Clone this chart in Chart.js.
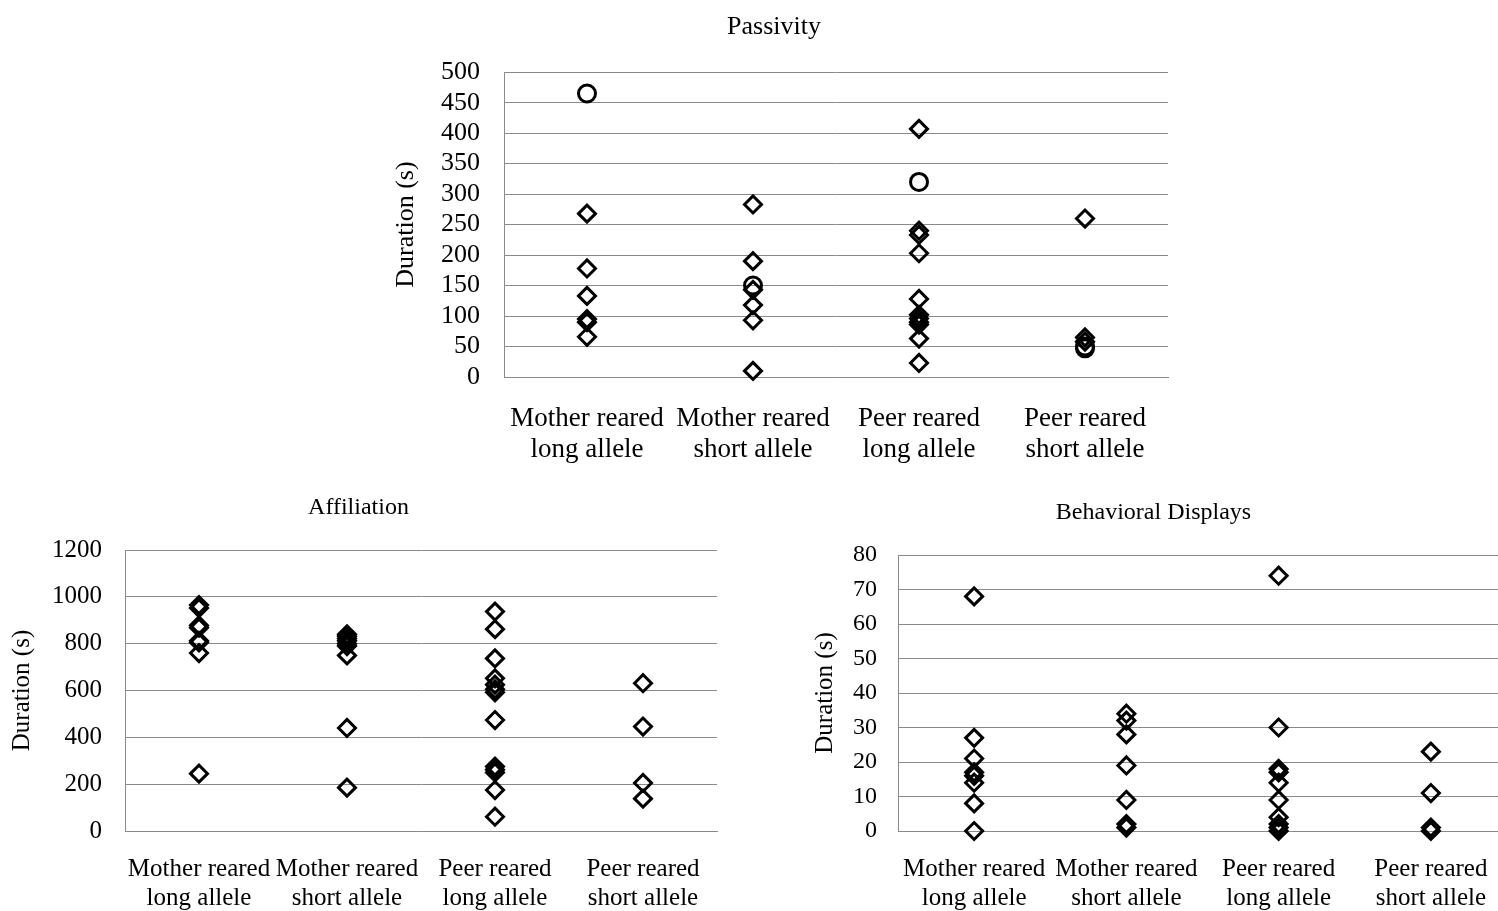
<!DOCTYPE html>
<html><head><meta charset="utf-8">
<script src="https://cdn.jsdelivr.net/npm/chart.js@4.4.1/dist/chart.umd.min.js"></script>
<style>
html,body{margin:0;padding:0;background:#fff;overflow:hidden;width:1498px;height:911px;}
.box{position:absolute;}
canvas{display:block;}
</style></head><body>
<div class="box" style="left:380px;top:0px;"><canvas id="c1" width="800" height="470"></canvas></div>
<div class="box" style="left:0px;top:470px;"><canvas id="c2" width="720" height="441"></canvas></div>
<div class="box" style="left:800px;top:470px;"><canvas id="c3" width="710" height="441"></canvas></div>
<script>
// ---- data ----
const categories = [
  ["Mother reared", "long allele"],
  ["Mother reared", "short allele"],
  ["Peer reared", "long allele"],
  ["Peer reared", "short allele"]
];
const yAxisTitle = "Duration (s)";

// Passivity
const passivityTitle = "Passivity";
const passivityTicks = { max: 500, step: 50 };
const passivityMotherLong  = [268, 178, 133, 95, 90, 66];
const passivityMotherShort = [283, 190, 143, 118, 93, 10];
const passivityPeerLong    = [407, 240, 233, 203, 128, 102, 96, 90, 86, 63, 23];
const passivityPeerShort   = [260, 65, 58];
const passivityOutliers    = [[465], [150], [320], [50, 47]];

// Affiliation
const affiliationTitle = "Affiliation";
const affiliationTicks = { max: 1200, step: 200 };
const affiliationMotherLong  = [965, 952, 878, 868, 812, 805, 760, 245];
const affiliationMotherShort = [840, 832, 822, 812, 800, 790, 750, 440, 185];
const affiliationPeerLong    = [937, 862, 737, 652, 625, 605, 592, 474, 275, 262, 250, 175, 61];
const affiliationPeerShort   = [631, 446, 205, 138];

// Behavioral Displays
const displaysTitle = "Behavioral Displays";
const displaysTicks = { max: 80, step: 10 };
const displaysMotherLong  = [68, 27, 21, 17, 16, 14, 8, 0];
const displaysMotherShort = [34, 32, 28, 19, 9, 2, 1];
const displaysPeerLong    = [74, 30, 18, 17, 14, 9, 4, 2, 1, 0];
const displaysPeerShort   = [23, 11, 1, 0];

// ---- drawing ----
const FONT = "'Liberation Serif', 'Times New Roman', serif";
const GRID = '#8a8a8a';

function buildPoints(groups) {
  const pts = [];
  groups.forEach((vals, i) => vals.forEach(v => pts.push({ x: i, y: v })));
  return pts;
}

function makeChart(id, o) {
  return new Chart(document.getElementById(id), {
    type: 'scatter',
    data: {
      datasets: o.sets.map(s => ({
        data: buildPoints(s.groups),
        pointStyle: s.style,
        pointRadius: s.r,
        pointHoverRadius: s.r,
        pointBorderWidth: 3,
        pointHoverBorderWidth: 3,
        pointBorderColor: '#000',
        pointBackgroundColor: 'rgba(0,0,0,0)',
        clip: false
      }))
    },
    options: {
      responsive: false,
      animation: false,
      events: [],
      layout: { autoPadding: false, padding: { left: 0, right: o.padRight, top: 0, bottom: 0 } },
      plugins: {
        legend: { display: false },
        tooltip: { enabled: false },
        title: {
          display: true, text: o.title, color: '#000',
          font: { family: FONT, size: o.titleSize, weight: 'normal', lineHeight: 1.2 },
          padding: { top: o.titleTop, bottom: o.titleBottom }
        }
      },
      scales: {
        x: {
          type: 'linear',
          min: -0.5, max: categories.length - 0.5,
          afterBuildTicks: (s) => { s.ticks = categories.map((c, i) => ({ value: i })); },
          afterFit: (s) => { s.height = o.xHeight; s.paddingLeft = 0; s.paddingRight = 0; },
          ticks: {
            callback: (v) => categories[v],
            color: '#000',
            font: { family: FONT, size: o.catSize, lineHeight: o.catLH },
            padding: o.catPad, maxRotation: 0, minRotation: 0, autoSkip: false
          },
          grid: { display: false, drawTicks: false },
          border: { display: true, color: GRID, width: 1 }
        },
        y: {
          min: 0, max: o.ticks.max,
          afterFit: (s) => { s.width = o.yWidth; s.paddingTop = 0; s.paddingBottom = 0; },
          ticks: {
            stepSize: o.ticks.step, color: '#000',
            autoSkip: false,
            callback: (v) => String(v),
            font: { family: FONT, size: o.tickSize },
            padding: o.tickPad
          },
          grid: { color: GRID, lineWidth: 1, drawTicks: false },
          border: { display: true, color: GRID, width: 1 },
          title: {
            display: true, text: yAxisTitle, color: '#000',
            font: { family: FONT, size: o.ySize, lineHeight: 1.2 },
            padding: { top: o.yTitlePad, bottom: 0 }
          }
        }
      }
    }
  });
}

makeChart('c1', {
  title: passivityTitle, ticks: passivityTicks,
  sets: [
    { groups: [passivityMotherLong, passivityMotherShort, passivityPeerLong, passivityPeerShort], style: 'rectRot', r: 8.5 },
    { groups: passivityOutliers, style: 'circle', r: 8.5 }
  ],
  padRight: 12, yWidth: 124, xHeight: 93,
  titleSize: 26, titleTop: 12, titleBottom: 29,
  tickSize: 26, tickPad: 24,
  catSize: 27, catLH: 1.15, catPad: 26,
  ySize: 26, yTitlePad: 11
});

makeChart('c2', {
  title: affiliationTitle, ticks: affiliationTicks,
  sets: [
    { groups: [affiliationMotherLong, affiliationMotherShort, affiliationPeerLong, affiliationPeerShort], style: 'rectRot', r: 8.5 }
  ],
  padRight: 3, yWidth: 125, xHeight: 80,
  titleSize: 24, titleTop: 23.6, titleBottom: 27.6,
  tickSize: 25, tickPad: 23,
  catSize: 25, catLH: 1.16, catPad: 23.5,
  ySize: 25, yTitlePad: 7
});

makeChart('c3', {
  title: displaysTitle, ticks: displaysTicks,
  sets: [
    { groups: [displaysMotherLong, displaysMotherShort, displaysPeerLong, displaysPeerShort], style: 'rectRot', r: 8.5 }
  ],
  padRight: 3, yWidth: 98, xHeight: 80,
  titleSize: 24, titleTop: 28.6, titleBottom: 27.6,
  tickSize: 24, tickPad: 21,
  catSize: 25, catLH: 1.16, catPad: 23.5,
  ySize: 25, yTitlePad: 10
});
</script>
</body></html>
